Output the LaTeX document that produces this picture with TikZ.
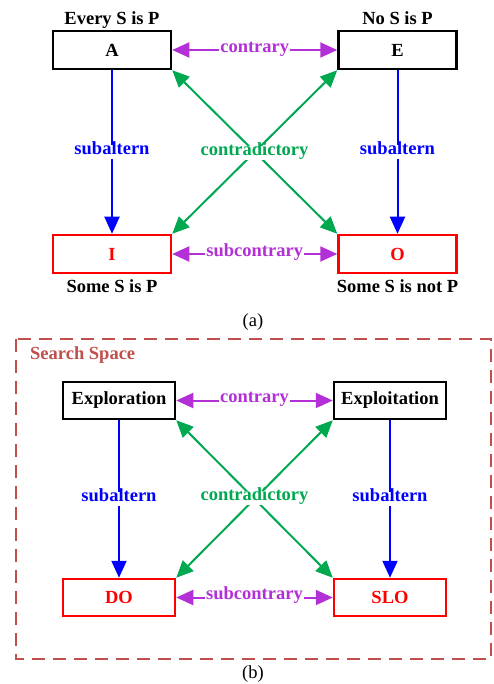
\documentclass[tikz,border=0pt]{standalone}
\usepackage{fontspec}
\setmainfont{Liberation Serif}
\usetikzlibrary{arrows.meta}
\definecolor{cpurple}{RGB}{178,48,214}
\definecolor{cgreen}{RGB}{0,168,80}
\definecolor{cblue}{RGB}{0,0,255}
\definecolor{cred}{RGB}{255,0,0}
\definecolor{cspace}{RGB}{192,80,77}
\tikzset{
  every node/.style={font=\fontsize{18.5}{21}\selectfont\bfseries},
  upbox/.style={draw=black, line width=2.5pt, minimum width=#1, minimum height=38pt, inner sep=0pt, fill=white},
  lowbox/.style={draw=cred, text=cred, line width=2.5pt, minimum width=#1, minimum height=38pt, inner sep=0pt, fill=white},
  tip/.style={-{Triangle[length=17pt,width=15pt]}},
  dtip/.style={{Triangle[length=17pt,width=15pt]}-{Triangle[length=17pt,width=15pt]}},
  lbl/.style={fill=white, inner xsep=1pt, inner ysep=2pt, text height=1.5ex, text depth=0.5ex},
  purplelink/.style={dtip, draw=cpurple, line width=2pt},
  greenlink/.style={dtip, draw=cgreen, line width=2pt},
  bluelink/.style={tip, draw=cblue, line width=2pt},
}
\begin{document}
\begin{tikzpicture}[x=1pt,y=1pt]
\useasboundingbox (0,0) rectangle (493,-684);

% ---- square of opposition
\node[upbox=118pt] (A) at (112,-50) {A};
\node[upbox=118pt] (E) at (397.5,-50) {E};
\node[lowbox=118pt] (I) at (112,-254) {I};
\node[lowbox=118pt] (O) at (397.5,-254) {O};

\node[anchor=base] (tA) at (112,-25) {Every S is P};
\node[anchor=base] (tE) at (397.5,-25) {No S is P};
\node[anchor=base] (tI) at (112,-292) {Some S is P};
\node[anchor=base] (tO) at (397.5,-292) {Some S is not P};

\draw[purplelink] (A) -- node[lbl, text=cpurple] (c1) {contrary} (E);
\draw[purplelink] (I) -- node[lbl, text=cpurple] (s1) {subcontrary} (O);
\draw[greenlink] (A.south east) -- (O.north west);
\draw[greenlink] (E.south west) -- (I.north east);
\node[lbl, text=cgreen] (d1) at (254.5,-153) {contradictory};
\draw[bluelink] (A) -- node[lbl, text=cblue] (b1) {subaltern} (I);
\draw[bluelink] (E) -- node[lbl, text=cblue] (b2) {subaltern} (O);

\node[font=\fontsize{18.5}{21}\selectfont, anchor=base] (capa) at (253,-326) {(a)};

% ---- search space
\draw[cspace, line width=1.4pt, dash pattern=on 13pt off 8pt] (16,-339) rectangle (491,-659);
\node[anchor=base west, text=cspace, inner xsep=0pt] (ss) at (30,-359) {Search Space};

\node[upbox=112pt, minimum height=37pt] (X) at (119,-400.5) {Exploration};
\node[upbox=112pt, minimum height=37pt] (Y) at (390,-400.5) {Exploitation};
\node[lowbox=112pt, minimum height=37pt] (D) at (119,-597.5) {DO};
\node[lowbox=112pt, minimum height=37pt] (S) at (390,-597.5) {SLO};

\draw[purplelink] (X) -- node[lbl, text=cpurple] (c2) {contrary} (Y);
\draw[purplelink] (D) -- node[lbl, text=cpurple] (s2) {subcontrary} (S);
\draw[greenlink] (X.south east) -- (S.north west);
\draw[greenlink] (Y.south west) -- (D.north east);
\node[lbl, text=cgreen] (d2) at (254.5,-498) {contradictory};
\draw[bluelink] (X) -- node[lbl, text=cblue] (b3) {subaltern} (D);
\draw[bluelink] (Y) -- node[lbl, text=cblue] (b4) {subaltern} (S);

\node[font=\fontsize{18.5}{21}\selectfont, anchor=base] (capb) at (253,-678) {(b)};
\end{tikzpicture}
\end{document}
